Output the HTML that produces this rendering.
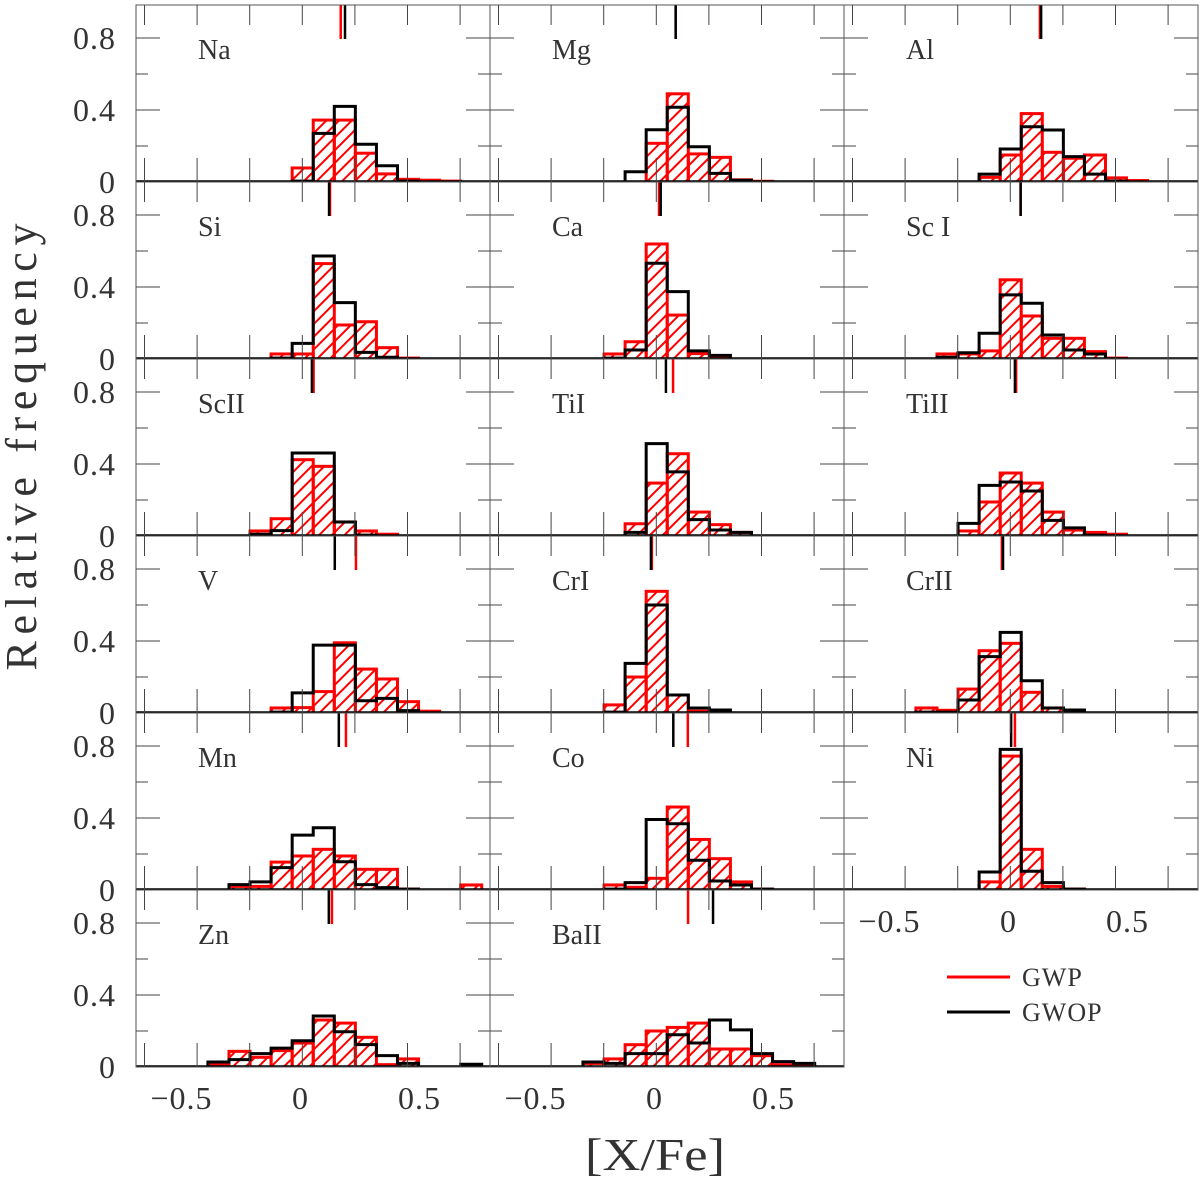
<!DOCTYPE html>
<html><head><meta charset="utf-8">
<style>
html,body{margin:0;padding:0;background:#fff;}
svg{display:block;}
text{font-family:"Liberation Serif",serif;fill:#333;}
</style></head>
<body>
<svg id="chart" width="1200" height="1179" viewBox="0 0 1200 1179" xmlns="http://www.w3.org/2000/svg">
<defs>
<pattern id="hatch" patternUnits="userSpaceOnUse" width="9" height="9" patternTransform="rotate(45)">
<line x1="0" y1="0" x2="0" y2="9" stroke="#ff0000" stroke-width="4"/>
</pattern>
</defs>
<g id="layer"></g>
</svg>
<script>
const elements = ["Na","Mg","Al","Si","Ca","Sc I","ScII","TiI","TiII","V","CrI","CrII","Mn","Co","Ni","Zn","BaII"];
const gwpStart = [0,-1,-1,-1,-2,-3,-2,-1,-2,-1,-2,-4,-3,-2,-1,-4,-3];
const gwopStart = [0,-1,-1,-1,-2,-3,-2,-1,-2,-1,-2,-4,-3,-2,-1,-4,-3];
const gwpFreq = [
 [0.078,0.344,0.344,0.16,0.045,0.015,0.01,0.005],
 [0,0.215,0.49,0.156,0.137,0.012,0.004],
 [0.026,0.15,0.38,0.165,0.132,0.15,0.023,0.008],
 [0.028,0.028,0.53,0.189,0.207,0.063,0.005],
 [0.028,0.096,0.639,0.244,0.03,0.005],
 [0.028,0.028,0.045,0.44,0.239,0.115,0.115,0.041,0.005],
 [0.028,0.096,0.424,0.387,0.078,0.028,0.01],
 [0.068,0.294,0.457,0.133,0.063,0.02],
 [0.028,0.189,0.35,0.294,0.133,0.033,0.02,0.01],
 [0.028,0.03,0.119,0.39,0.244,0.189,0.063,0.01],
 [0.045,0.2,0.676,0.1,0.01,0.01],
 [0.028,0.015,0.133,0.346,0.387,0.115,0.028,0.01],
 [0.02,0.02,0.155,0.189,0.226,0.189,0.115,0.115,0.005,0,0,0.028],
 [0.028,0.015,0.065,0.461,0.281,0.174,0.045,0.005],
 [0.045,0.744,0.226,0.02,0.005],
 [0.015,0.087,0.054,0.091,0.133,0.261,0.244,0.165,0.013,0.045],
 [0.02,0.045,0.124,0.2,0.22,0.244,0.1,0.1,0.063,0.013,0.005]
];
const gwopFreq = [
 [0.005,0.27,0.42,0.21,0.09,0.005],
 [0.057,0.29,0.415,0.196,0.048,0.01],
 [0.044,0.183,0.307,0.289,0.141,0.044,0.005],
 [0.005,0.087,0.572,0.313,0.037,0.01],
 [0.005,0.05,0.532,0.374,0.045,0.02],
 [0.01,0.035,0.143,0.356,0.31,0.133,0.05,0.028],
 [0.01,0.03,0.461,0.461,0.078,0.005],
 [0.02,0.513,0.356,0.091,0.033,0.02],
 [0.07,0.281,0.3,0.25,0.087,0.045,0.005],
 [0.005,0.112,0.377,0.377,0.068,0.081,0.013],
 [0.005,0.276,0.6,0.1,0.028,0.017],
 [0.005,0.005,0.072,0.313,0.448,0.179,0.028,0.017],
 [0.03,0.045,0.124,0.305,0.346,0.157,0.03,0.013,0.005],
 [0.005,0.041,0.392,0.368,0.165,0.05,0.028,0.005],
 [0.1,0.781,0.104,0.041,0.005],
 [0.028,0.041,0.074,0.105,0.146,0.283,0.196,0.124,0.063,0.02,0,0,0.015],
 [0.028,0.02,0.074,0.074,0.179,0.133,0.261,0.206,0.074,0.03,0.02]
];
const gwpMean = [0.169,0.089,0.132,0.124,0.019,0.051,0.055,0.078,0.032,0.233,-0.011,-0.028,0.191,0.14,0.027,0.132,0.141];
const gwopMean = [0.187,0.089,0.137,0.12,0.026,0.051,0.048,0.048,0.027,0.144,-0.015,-0.023,0.161,0.079,0.011,0.119,0.246];
const xTickLabels = [-0.5,0,0.5];
const yTickLabels = [0,0.4,0.8];

const NS = "http://www.w3.org/2000/svg";
const layer = document.getElementById('layer');
const BIN0 = -0.035, BINW = 0.0885, XS = 238, YS = 180;
const PW = 354, PH = 177;
function colLeft(c){return 136 + PW*c;}
function rowTop(r){return 5 + PH*r;}
function xPx(c,v){return 300.5 + 354*c + XS*v;}
function yPx(r,v){return rowTop(r) + PH - YS*v;}
function mk(tag, attrs, parent){
  const e = document.createElementNS(NS, tag);
  for (const k in attrs) e.setAttribute(k, attrs[k]);
  (parent||layer).appendChild(e);
  return e;
}
function fmt(v){ if (v===0) return "0"; return (v<0?"\u22120.":"0.") + String(Math.abs(v)).split(".")[1]; }

elements.forEach((name, i) => {
  const r = Math.floor(i/3), c = i%3;
  const L = colLeft(c), T = rowTop(r), B = T + PH;
  const g = mk('g', {});
  
  
  const cp = mk('clipPath', {id: 'clip'+i}, g);
  mk('rect', {x:L, y:T, width:PW, height:PH}, cp);
  const data = mk('g', {'clip-path':'url(#clip'+i+')'}, g);
  gwpFreq[i].forEach((h, k) => {
    if (h <= 0) return;
    const b = gwpStart[i] + k;
    const x0 = xPx(c, BIN0 + b*BINW), x1 = xPx(c, BIN0 + (b+1)*BINW);
    const rc = mk('rect', {x:x0, y:yPx(r,h), width:x1-x0, height:YS*h, fill:'url(#hatch)', stroke:'#ff0000', 'stroke-width':3}, data);
    
    
  });
  let d = '';
  const s = gwopStart[i];
  gwopFreq[i].forEach((h, k) => {
    const x0 = xPx(c, BIN0 + (s+k)*BINW), x1 = xPx(c, BIN0 + (s+k+1)*BINW);
    d += (k===0 ? 'M'+x0+','+B : '') + ' L'+x0+','+yPx(r,h)+' L'+x1+','+yPx(r,h);
    if (k === gwopFreq[i].length-1) d += ' L'+x1+','+B;
  });
  const st = mk('path', {d:d, fill:'none', stroke:'#000', 'stroke-width':3}, data);
  
  
  mk('line', {x1:L, x2:L+PW, y1:B-0.5, y2:B-0.5, stroke:'#000', 'stroke-width':2.5}, data);
  const mr = mk('line', {x1:xPx(c,gwpMean[i]), x2:xPx(c,gwpMean[i]), y1:T, y2:T+34, stroke:'#ff0000', 'stroke-width':2.5}, data);
  
  
  const mb = mk('line', {x1:xPx(c,gwopMean[i]), x2:xPx(c,gwopMean[i]), y1:T, y2:T+34, stroke:'#000', 'stroke-width':2.5}, data);
  
  
  mk('rect', {x:L, y:T, width:PW, height:PH, fill:'none', stroke:'#555', 'stroke-width':1}, g);
  for (let k=0;k<7;k++){
    const tx = L + 8.5 + 52.6*k;
    mk('line', {x1:tx, x2:tx, y1:T, y2:T+20, stroke:'#444', 'stroke-width':1}, g);
    mk('line', {x1:tx, x2:tx, y1:B, y2:B-24, stroke:'#444', 'stroke-width':1}, g);
  }
  [0.2,0.4,0.6,0.8].forEach(v => {
    const len = (Math.round(v*10)%4===0) ? 24 : 12;
    const ty = yPx(r,v);
    mk('line', {x1:L, x2:L+len, y1:ty, y2:ty, stroke:'#444', 'stroke-width':1}, g);
    mk('line', {x1:L+PW, x2:L+PW-len, y1:ty, y2:ty, stroke:'#444', 'stroke-width':1}, g);
  });
  const lbl = mk('text', {x:L+62, y:T+54, 'font-size':28}, g);
  lbl.textContent = name;
  
  
  if (c === 0){
    yTickLabels.forEach(v => {
      const t = mk('text', {x:116, y:yPx(r,v)+11, 'font-size':32, 'text-anchor':'end', 'letter-spacing':1, fill:'#444'}, g);
      t.textContent = fmt(v);
      
      
    });
  }
  if (r === 5 || (r === 4 && c === 2)){
    xTickLabels.forEach(v => {
      const t = mk('text', {x:xPx(c,v), y:B+42, 'font-size':32, 'text-anchor':'middle', 'letter-spacing':1, fill:'#444'}, g);
      t.textContent = fmt(v);
      
      
    });
  }
});
</script>
<script>
(function(){
  const layer = document.getElementById('layer');
  const NS = "http://www.w3.org/2000/svg";
  function mk(tag, attrs){const e=document.createElementNS(NS,tag);for(const k in attrs)e.setAttribute(k,attrs[k]);layer.appendChild(e);return e;}
  const yt = mk('text', {x:0, y:0, 'font-size':44, 'text-anchor':'middle', textLength:447, lengthAdjust:'spacing', transform:'translate(36,447) rotate(-90)', fill:'#555'});
  yt.textContent = 'Relative frequency';
  
  
  const xt = mk('text', {x:655, y:1170, 'font-size':46, 'text-anchor':'middle', textLength:140, lengthAdjust:'spacingAndGlyphs', fill:'#555'});
  xt.textContent = '[X/Fe]';
  
  
  const l1 = mk('line', {x1:947, x2:1010, y1:977, y2:977, stroke:'#ff0000', 'stroke-width':3});
  
  
  const t1 = mk('text', {x:1022, y:986, 'font-size':26, fill:'#ff2020', 'letter-spacing':1});
  t1.textContent = 'GWP';
  
  
  const l2 = mk('line', {x1:947, x2:1010, y1:1012, y2:1012, stroke:'#000', 'stroke-width':3});
  
  
  const t2 = mk('text', {x:1022, y:1021, 'font-size':26, 'letter-spacing':1});
  t2.textContent = 'GWOP';
  
  
})();
</script>
</body></html>
